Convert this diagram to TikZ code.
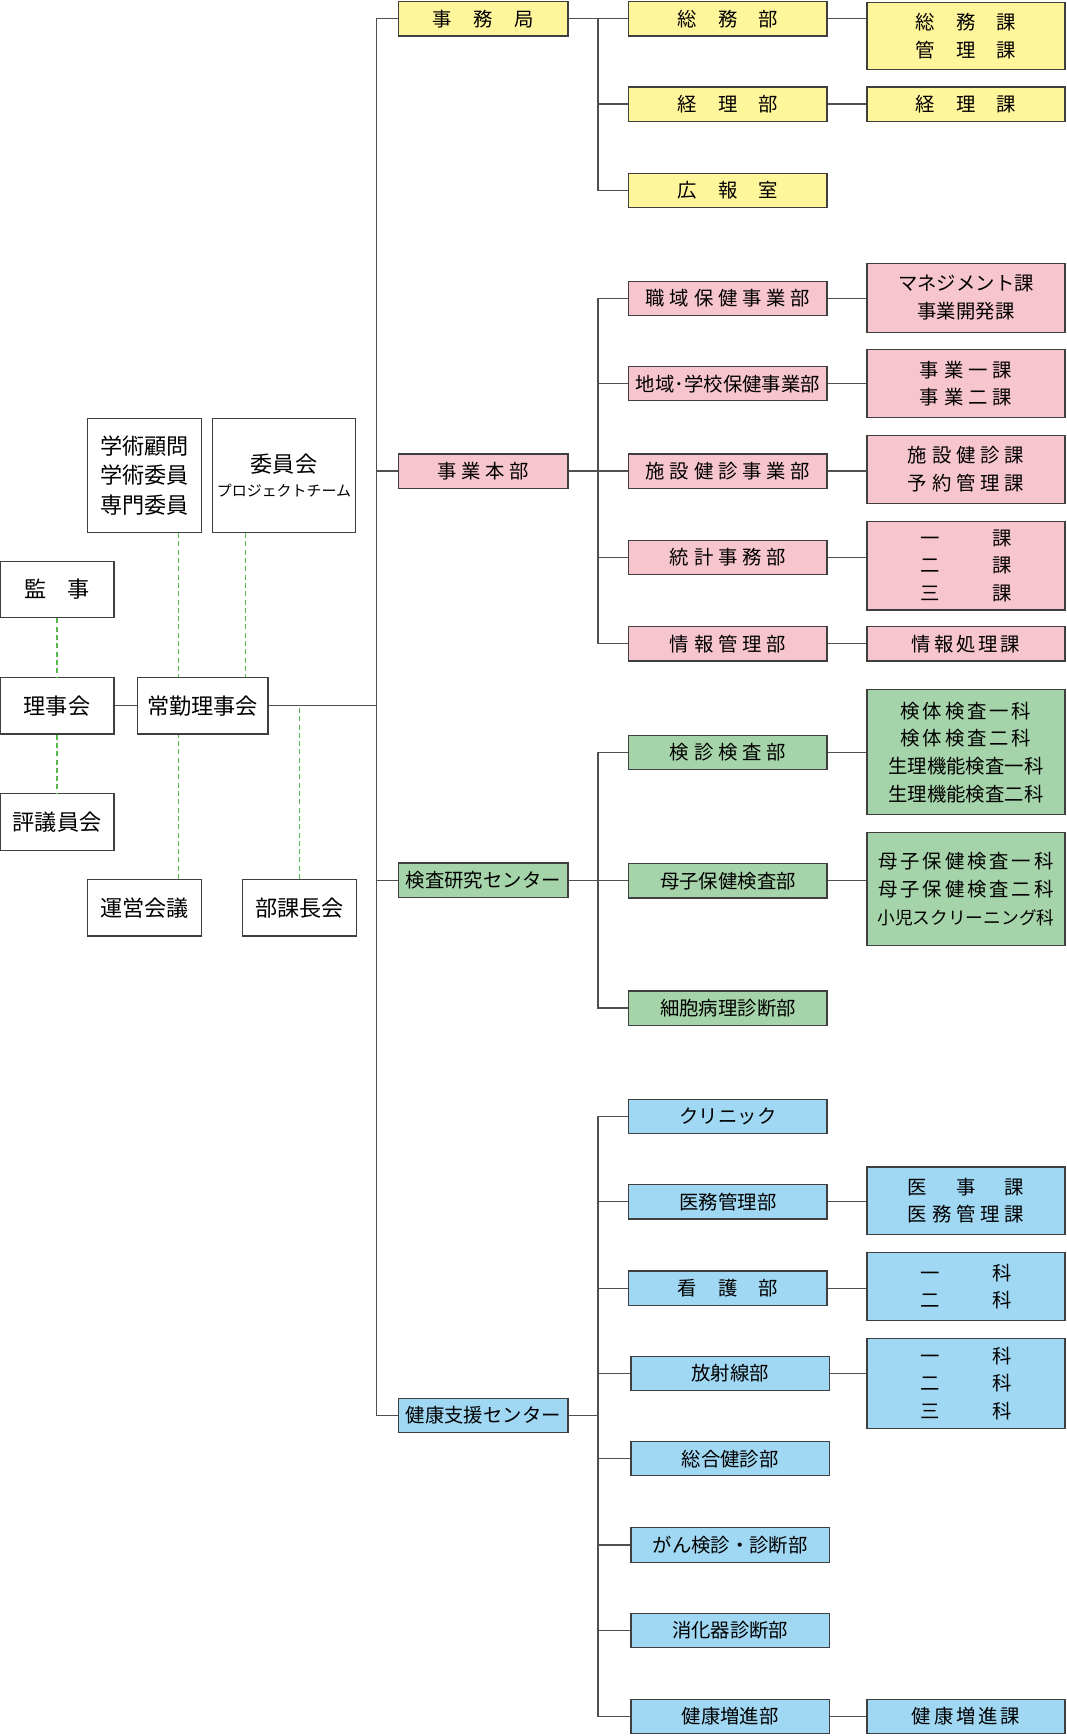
\documentclass[tikz,border=0pt]{standalone}
\usepackage{fontspec}
\usepackage{tikz}
\usepackage{xcolor}
\newfontfamily\jp{Noto Sans CJK JP}
\definecolor{cyellow}{HTML}{FFF59A}
\definecolor{cpink}{HTML}{F7C5CE}
\definecolor{cgreen}{HTML}{A6D4AA}
\definecolor{cblue}{HTML}{A0D8F4}
\definecolor{boxline}{HTML}{3F3F3F}
\definecolor{linkgray}{HTML}{505050}
\definecolor{dashgreen}{HTML}{55B84A}
\newcommand{\wideGap}{\hspace{1.1em}}
\newcommand{\midGap}{\hspace{0.25em}}
\newcommand{\tinyGap}{\hspace{0.15em}}
\newcommand{\tabGap}{\hspace{2.7em}}

\begin{document}
\begin{tikzpicture}[
  x=1pt, y=-1pt,
  box/.style={draw=boxline, line width=1.1pt, inner sep=0pt, align=center, text=black,
    font=\jp\fontsize{17.5}{25}\selectfont, minimum height=31pt},
  unit/.style={box, minimum width=153pt},
  dept/.style={box, minimum width=179pt},
  sect/.style={box, minimum width=179pt},
  org/.style={box, fill=white, font=\jp\fontsize{20}{26.5}\selectfont, minimum width=103pt, minimum height=51pt},
  link/.style={draw=linkgray, line width=1.2pt},
  dashline/.style={draw=dashgreen, line width=1.2pt, dash pattern=on 4.5pt off 3pt}
]
\useasboundingbox (0,0) rectangle (963,1568);
\coordinate (spine) at (340,0);
\coordinate (sub) at (540,0);

% left side
\node[org] (kanji) at (51.5,532.5) {監\hspace{0.95em}事};
\node[org] (riji) at (51.5,637.5) {理事会};
\node[org] (hyogi) at (51.5,742.5) {評議員会};
\node[org, minimum width=118pt] (jokin) at (183,637.5) {常勤理事会};
\node[org, minimum height=103pt] (gakujutsu) at (130.5,429.5) {学術顧問\\学術委員\\専門委員};
\node[org, minimum width=129pt, minimum height=103pt] (iinkai) at (256.5,429.5)
  {委員会\\[-4pt]{\fontsize{13.5}{16}\selectfont プロジェクトチーム}};
\node[org] (unei) at (130.5,820) {運営会議};
\node[org] (bukacho) at (270.5,820) {部課長会};

% 事務局
\node[unit, fill=cyellow] (jimu) at (436.5,17) {事\wideGap 務\wideGap 局};
\node[dept, fill=cyellow] (somu) at (657.5,17) {総\wideGap 務\wideGap 部};
\node[dept, fill=cyellow] (keiri) at (657.5,94) {経\wideGap 理\wideGap 部};
\node[dept, fill=cyellow] (koho) at (657.5,172) {広\wideGap 報\wideGap 室};
\node[sect, fill=cyellow, minimum height=61pt] (somuka) at (872.5,32.5) {総\wideGap 務\wideGap 課\\管\wideGap 理\wideGap 課};
\node[sect, fill=cyellow] (keirika) at (872.5,94) {経\wideGap 理\wideGap 課};

% 事業本部
\node[unit, fill=cpink] (jigyo) at (436.5,425.5) {事\midGap 業\midGap 本\midGap 部};
\node[dept, fill=cpink] (shokuiki) at (657.5,269.5) {職\midGap 域\midGap 保\midGap 健\midGap 事\midGap 業\midGap 部};
\node[dept, fill=cpink] (chiiki) at (657.5,346.5) {地域･学校保健事業部};
\node[dept, fill=cpink] (shisetsu) at (657.5,425.5) {施\midGap 設\midGap 健\midGap 診\midGap 事\midGap 業\midGap 部};
\node[dept, fill=cpink] (tokei) at (657.5,503.5) {統\midGap 計\midGap 事\midGap 務\midGap 部};
\node[dept, fill=cpink] (joho) at (657.5,581.5) {情\midGap 報\midGap 管\midGap 理\midGap 部};
\node[sect, fill=cpink, minimum height=62pt] (mgmtka) at (872.5,269) {マネジメント課\\事業開発課};
\node[sect, fill=cpink, minimum height=61pt] (jigyoka) at (872.5,346.5)
  {事\midGap 業\midGap 一\midGap 課\\事\midGap 業\midGap 二\midGap 課};
\node[sect, fill=cpink, minimum height=62pt] (shisetsuka) at (872.5,424)
  {施\midGap 設\midGap 健\midGap 診\midGap 課\\予\midGap 約\midGap 管\midGap 理\midGap 課};
\node[sect, fill=cpink, minimum height=80pt] (tokeika) at (872.5,511) {一\tabGap 課\\二\tabGap 課\\三\tabGap 課};
\node[sect, fill=cpink] (johoka) at (872.5,581.5) {情\tinyGap 報\tinyGap 処\tinyGap 理\tinyGap 課};

% 検査研究センター
\node[unit, fill=cgreen] (kensa) at (436.5,795) {検査研究センター};
\node[dept, fill=cgreen] (kenshin) at (657.5,679.5) {検\midGap 診\midGap 検\midGap 査\midGap 部};
\node[dept, fill=cgreen] (boshi) at (657.5,795.5) {母子保健検査部};
\node[dept, fill=cgreen] (saibo) at (657.5,910.5) {細胞病理診断部};
\node[sect, fill=cgreen, minimum height=113pt] (kentaika) at (872.5,679.5)
  {検\tinyGap 体\tinyGap 検\tinyGap 査\tinyGap 一\tinyGap 科\\検\tinyGap 体\tinyGap 検\tinyGap 査\tinyGap 二\tinyGap 科\\生理機能検査一科\\生理機能検査二科};
\node[sect, fill=cgreen, minimum height=102pt] (boshika) at (872.5,803)
  {母\tinyGap 子\tinyGap 保\tinyGap 健\tinyGap 検\tinyGap 査\tinyGap 一\tinyGap 科\\母\tinyGap 子\tinyGap 保\tinyGap 健\tinyGap 検\tinyGap 査\tinyGap 二\tinyGap 科\\{\fontsize{16}{25}\selectfont 小児スクリーニング科}};

% 健康支援センター
\node[unit, fill=cblue] (kenko) at (436.5,1278.5) {健康支援センター};
\node[dept, fill=cblue] (clinic) at (657.5,1008.5) {クリニック};
\node[dept, fill=cblue] (imu) at (657.5,1085.5) {医務管理部};
\node[dept, fill=cblue] (kango) at (657.5,1163.5) {看\wideGap 護\wideGap 部};
\node[dept, fill=cblue] (hoshasen) at (659.5,1240.5) {放射線部};
\node[dept, fill=cblue] (sogo) at (659.5,1317.5) {総合健診部};
\node[dept, fill=cblue] (gan) at (659.5,1395.5) {がん検診・診断部};
\node[dept, fill=cblue] (shoka) at (659.5,1472.5) {消化器診断部};
\node[dept, fill=cblue] (zoshin) at (659.5,1550.5) {健康増進部};
\node[sect, fill=cblue, minimum height=61pt] (ijika) at (872.5,1084.5)
  {医\hspace{1.5em}事\hspace{1.5em}課\\医\midGap 務\midGap 管\midGap 理\midGap 課};
\node[sect, fill=cblue, minimum height=62pt] (kangoka) at (872.5,1162) {一\tabGap 科\\二\tabGap 科};
\node[sect, fill=cblue, minimum height=81pt] (hoshaka) at (872.5,1249.5) {一\tabGap 科\\二\tabGap 科\\三\tabGap 科};
\node[sect, fill=cblue] (zoshinka) at (872.5,1550.5) {健\tinyGap 康\tinyGap 増\tinyGap 進\tinyGap 課};

% main spine
\draw[link] (jimu.west) -- (jimu.west -| spine) |- (kenko.west);
\foreach \u in {jigyo,kensa}
  \draw[link] (\u.west) -- (\u.west -| spine);
\draw[link] (riji.east) -- (jokin.west);
\draw[link] (jokin.east) -- (jokin.east -| spine);

% branches
\foreach \u/\first/\last in {jimu/somu/koho, jigyo/shokuiki/joho, kensa/kenshin/saibo, kenko/clinic/zoshin} {
  \draw[link] (\u.east) -- (\u.east -| sub);
  \draw[link] (\first.west) -- (\first.west -| sub) |- (\last.west);
}
\foreach \d in {keiri,chiiki,shisetsu,tokei,boshi,imu,kango,hoshasen,sogo,gan,shoka}
  \draw[link] (\d.west) -- (\d.west -| sub);
\foreach \d/\s in {somu/somuka, keiri/keirika, shokuiki/mgmtka, chiiki/jigyoka, shisetsu/shisetsuka,
    tokei/tokeika, joho/johoka, kenshin/kentaika, boshi/boshika, imu/ijika, kango/kangoka,
    hoshasen/hoshaka, zoshin/zoshinka}
  \draw[link] (\d.east) -- (\d.east -| \s.west);

% dashed links
\draw[dashline] (kanji.south) -- (riji.north);
\draw[dashline] (riji.south) -- (hyogi.north);
\draw[dashline] ([xshift=30.5pt]gakujutsu.south) -- ([xshift=30.5pt]gakujutsu.south |- jokin.north);
\draw[dashline] ([xshift=-34.5pt]iinkai.south) -- ([xshift=-34.5pt]iinkai.south |- jokin.north);
\draw[dashline] ([xshift=30.5pt]unei.north) -- ([xshift=30.5pt]unei.north |- jokin.south);
\draw[dashline] (bukacho.north) -- (bukacho.north |- jokin.east);
\end{tikzpicture}
\end{document}
